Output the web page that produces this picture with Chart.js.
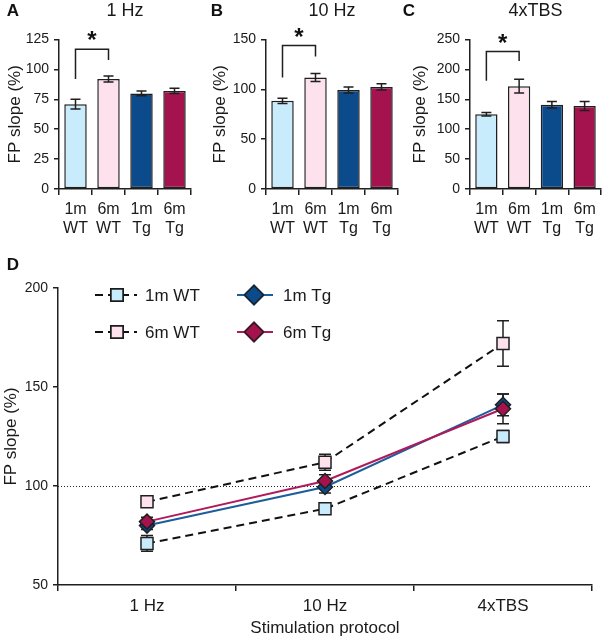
<!DOCTYPE html>
<html><head><meta charset="utf-8">
<script src="https://cdn.jsdelivr.net/npm/chart.js@4.4.1/dist/chart.umd.min.js"></script>
<style>
html,body{margin:0;padding:0;background:#fff;}
#wrap{position:relative;width:602px;height:640px;overflow:hidden;}
canvas{position:absolute;display:block;}
</style></head><body>
<div id="wrap">
<canvas id="cA" width="196" height="240" style="left:0;top:0"></canvas>
<canvas id="cB" width="200" height="240" style="left:200px;top:0"></canvas>
<canvas id="cC" width="202" height="240" style="left:400px;top:0"></canvas>
<canvas id="cD" width="602" height="400" style="left:0;top:240px"></canvas>
</div>
<script>
// ---------- data ----------
const groupLabels = [['1m','WT'],['6m','WT'],['1m','Tg'],['6m','Tg']];
const groupNames = ['1m WT','6m WT','1m Tg','6m Tg'];
const protocols = ['1 Hz','10 Hz','4xTBS'];
const panelLetters = ['A','B','C','D'];
const mean1mWT = [71, 88.5, 125];
const mean6mWT = [92, 112, 172];
const mean1mTg = [80, 99.5, 141];
const mean6mTg = [82, 102.5, 139];
const sem1mWT = [4, 2.7, 3];
const sem6mWT = [2.5, 4, 11.5];
const sem1mTg = [2, 3, 5.5];
const sem6mTg = [2.2, 3.2, 7.5];
const panelMax = [125, 150, 250];
const panelStep = [25, 50, 50];
const bracketTop = [117, 144, 230];
const bracketLeftEnd = [92, 112, 181];
const bracketRightEnd = [108, 133, 214];
const lineTicks = [50, 100, 150, 200];
const refLine = 100;

// ---------- styles ----------
const FONT = "'Liberation Sans', Arial, sans-serif";
Chart.defaults.font.family = FONT;
Chart.defaults.color = '#1a1a1a';
const INK = '#1f1f1f';
const fills = ['#c8ecfb', '#fde2ee', '#0b4a8b', '#a5134e'];
const lineCols = ['#111111', '#111111', '#1d5d9c', '#b01a5a'];

const errorBarPlugin = {
  id: 'errbars',
  beforeDatasetsDraw(chart, args, opts) {
    const ctx = chart.ctx;
    ctx.save();
    ctx.strokeStyle = INK; ctx.lineWidth = 1.5;
    chart.data.datasets.forEach((ds, di) => {
      if (!opts.after) drawErr(chart, ds, di, opts.cap);
    });
    ctx.restore();
  },
  afterDatasetsDraw(chart, args, opts) {
    const ctx = chart.ctx;
    ctx.save();
    ctx.strokeStyle = INK; ctx.lineWidth = 1.5;
    chart.data.datasets.forEach((ds, di) => {
      if (opts.after) drawErr(chart, ds, di, opts.cap);
    });
    ctx.restore();
  }
};
function drawErr(chart, ds, di, cap) {
  const ctx = chart.ctx, y = chart.scales.y;
  const meta = chart.getDatasetMeta(di);
  meta.data.forEach((el, i) => {
    const v = ds.data[i], e = ds.errors[i];
    const x = el.x, yt = y.getPixelForValue(v + e), yb = y.getPixelForValue(v - e);
    ctx.beginPath();
    ctx.moveTo(x, yt); ctx.lineTo(x, yb);
    ctx.moveTo(x - cap, yt); ctx.lineTo(x + cap, yt);
    ctx.moveTo(x - cap, yb); ctx.lineTo(x + cap, yb);
    ctx.stroke();
  });
}

const bracketPlugin = {
  id: 'bracket',
  afterDraw(chart, args, opts) {
    if (opts.top == null) return;
    const ctx = chart.ctx, x = chart.scales.x, y = chart.scales.y;
    const x0 = x.getPixelForValue(0), x1 = x.getPixelForValue(1);
    const yt = y.getPixelForValue(opts.top);
    ctx.save();
    ctx.strokeStyle = INK; ctx.lineWidth = 1.5;
    ctx.beginPath();
    ctx.moveTo(x0, y.getPixelForValue(opts.left));
    ctx.lineTo(x0, yt); ctx.lineTo(x1, yt);
    ctx.lineTo(x1, y.getPixelForValue(opts.right));
    ctx.stroke();
    ctx.fillStyle = '#111';
    ctx.font = 'bold 24px ' + FONT;
    ctx.textAlign = 'center'; ctx.textBaseline = 'alphabetic';
    ctx.fillText('*', (x0 + x1) / 2, yt - 1);
    ctx.restore();
  }
};

const letterPlugin = {
  id: 'letter',
  afterDraw(chart, args, opts) {
    const ctx = chart.ctx;
    ctx.save();
    ctx.fillStyle = '#111';
    ctx.font = 'bold 17px ' + FONT;
    ctx.textAlign = 'center'; ctx.textBaseline = 'middle';
    ctx.fillText(opts.text, opts.x, opts.y);
    ctx.restore();
  }
};

function barPanel(id, p, yWidth, padRight, titlePad, letterX) {
  const vals = [mean1mWT[p], mean6mWT[p], mean1mTg[p], mean6mTg[p]];
  const errs = [sem1mWT[p], sem6mWT[p], sem1mTg[p], sem6mTg[p]];
  new Chart(document.getElementById(id), {
    type: 'bar',
    data: {
      labels: groupLabels,
      datasets: [{
        data: vals, errors: errs,
        backgroundColor: fills, borderColor: INK, borderWidth: 1.5,
        borderSkipped: false, barPercentage: 0.68, categoryPercentage: 1
      }]
    },
    options: {
      responsive: false, animation: false, events: [],
      layout: { padding: { left: 0, right: padRight, top: 0, bottom: 0 } },
      plugins: {
        legend: { display: false }, tooltip: { enabled: false },
        title: { display: true, text: protocols[p], fullSize: false, color: '#1a1a1a',
                 font: { size: 18, weight: 'normal' }, padding: { top: 0, bottom: 18 } },
        errbars: { cap: 5, after: true },
        bracket: { top: bracketTop[p], left: bracketLeftEnd[p], right: bracketRightEnd[p] },
        letter: { text: panelLetters[p], x: letterX, y: 11 }
      },
      scales: {
        x: {
          grid: { display: true, drawOnChartArea: false, tickLength: 6, color: INK, lineWidth: 1.5 },
          border: { color: INK, width: 1.5 },
          ticks: { font: { size: 16 }, padding: 5, maxRotation: 0, autoSkip: false, color: '#1a1a1a' },
          afterFit: s => { s.height = 51; }
        },
        y: {
          min: 0, max: panelMax[p],
          ticks: { stepSize: panelStep[p], font: { size: 14 }, padding: 5, color: '#1a1a1a' },
          grid: { display: true, drawOnChartArea: false, tickLength: 5, color: INK, lineWidth: 1.5 },
          border: { color: INK, width: 1.5 },
          title: { display: true, text: 'FP slope (%)', font: { size: 17 }, color: '#1a1a1a',
                   padding: { top: titlePad, bottom: 0 } },
          afterFit: s => { s.width = yWidth; }
        }
      }
    },
    plugins: [errorBarPlugin, bracketPlugin, letterPlugin]
  });
}

barPanel('cA', 0, 59, 5, 5, 13);
barPanel('cB', 1, 66, 2, 10, 17);
barPanel('cC', 2, 70, 1, 10, 9);

// ---------- panel D ----------
const refLinePlugin = {
  id: 'refline',
  beforeDatasetsDraw(chart) {
    const ctx = chart.ctx, a = chart.chartArea, y = chart.scales.y.getPixelForValue(refLine);
    ctx.save();
    ctx.strokeStyle = '#222'; ctx.lineWidth = 1; ctx.setLineDash([1, 2]);
    ctx.beginPath(); ctx.moveTo(a.left, Math.round(y) + 0.5); ctx.lineTo(a.right, Math.round(y) + 0.5); ctx.stroke();
    ctx.restore();
  }
};

const legendPlugin = {
  id: 'customLegend',
  afterDraw(chart) {
    const ctx = chart.ctx;
    const ds = chart.data.datasets;
    const items = [
      { d: ds[0], x0: 95, x1: 137, mx: 117, tx: 145, y: 55, r: 8.5 },
      { d: ds[1], x0: 95, x1: 137, mx: 117, tx: 145, y: 92, r: 8.5 },
      { d: ds[2], x0: 237, x1: 273, mx: 254, tx: 283, y: 55, r: 9.5 },
      { d: ds[3], x0: 237, x1: 273, mx: 254, tx: 283, y: 92, r: 9.5 }
    ];
    ctx.save();
    items.forEach(it => {
      ctx.strokeStyle = it.d.borderColor; ctx.lineWidth = it.d.borderWidth;
      ctx.setLineDash(it.d.borderDash || []);
      ctx.beginPath(); ctx.moveTo(it.x0, it.y); ctx.lineTo(it.x1, it.y); ctx.stroke();
      ctx.setLineDash([]);
      Chart.helpers.drawPoint(ctx, {
        pointStyle: it.d.pointStyle, radius: it.r, rotation: 0, borderWidth: 1.5
      }, it.mx, it.y);
    });
    ctx.restore();
    // draw markers with fills
    items.forEach(it => {
      ctx.save();
      ctx.fillStyle = it.d.pointBackgroundColor; ctx.strokeStyle = it.d.pointBorderColor; ctx.lineWidth = 1.5;
      Chart.helpers.drawPoint(ctx, { pointStyle: it.d.pointStyle, radius: it.r, rotation: 0, borderWidth: 1.5 }, it.mx, it.y);
      ctx.fillStyle = '#1a1a1a'; ctx.font = '17px ' + FONT;
      ctx.textAlign = 'left'; ctx.textBaseline = 'middle';
      ctx.fillText(it.d.label, it.tx, it.y + 1);
      ctx.restore();
    });
  }
};

function lineDs(label, data, errs, k, dash, style, r, order) {
  return {
    label, data, errors: errs, order,
    borderColor: lineCols[k], borderWidth: 2, borderDash: dash,
    pointStyle: style, pointRadius: r, pointBackgroundColor: fills[k],
    pointBorderColor: INK, pointBorderWidth: 1.5, tension: 0, fill: false
  };
}

new Chart(document.getElementById('cD'), {
  type: 'line',
  data: {
    labels: protocols,
    datasets: [
      lineDs(groupNames[0], mean1mWT, sem1mWT, 0, [8, 5], 'rect', 8.5, 3),
      lineDs(groupNames[1], mean6mWT, sem6mWT, 1, [8, 5], 'rect', 8.5, 2),
      lineDs(groupNames[2], mean1mTg, sem1mTg, 2, [], 'rectRot', 7.5, 1),
      lineDs(groupNames[3], mean6mTg, sem6mTg, 3, [], 'rectRot', 7.5, 0)
    ]
  },
  options: {
    responsive: false, animation: false, events: [],
    layout: { padding: { left: 0, right: 2, top: 48, bottom: 0 } },
    plugins: {
      legend: { display: false }, tooltip: { enabled: false },
      errbars: { cap: 6, after: false },
      letter: { text: panelLetters[3], x: 13, y: 25 }
    },
    scales: {
      x: {
        offset: true,
        grid: { display: true, offset: true, drawOnChartArea: false, tickLength: 6, color: INK, lineWidth: 1.5 },
        border: { color: INK, width: 1.5 },
        ticks: { font: { size: 17 }, padding: 5, color: '#1a1a1a', maxRotation: 0 },
        title: { display: true, text: 'Stimulation protocol', font: { size: 17 }, color: '#1a1a1a',
                 padding: { top: 0, bottom: 1 } },
        afterFit: s => { s.height = 55; }
      },
      y: {
        min: 50, max: 200,
        afterBuildTicks: s => { s.ticks = lineTicks.map(v => ({ value: v })); },
        ticks: { font: { size: 14 }, padding: 5, color: '#1a1a1a' },
        grid: { display: true, drawOnChartArea: false, tickLength: 5, color: INK, lineWidth: 1.5 },
        border: { color: INK, width: 1.5 },
        title: { display: true, text: 'FP slope (%)', font: { size: 17 }, color: '#1a1a1a',
                 padding: { top: 1, bottom: 0 } },
        afterFit: s => { s.width = 58; }
      }
    }
  },
  plugins: [refLinePlugin, errorBarPlugin, legendPlugin, letterPlugin]
});
</script>
</body></html>
